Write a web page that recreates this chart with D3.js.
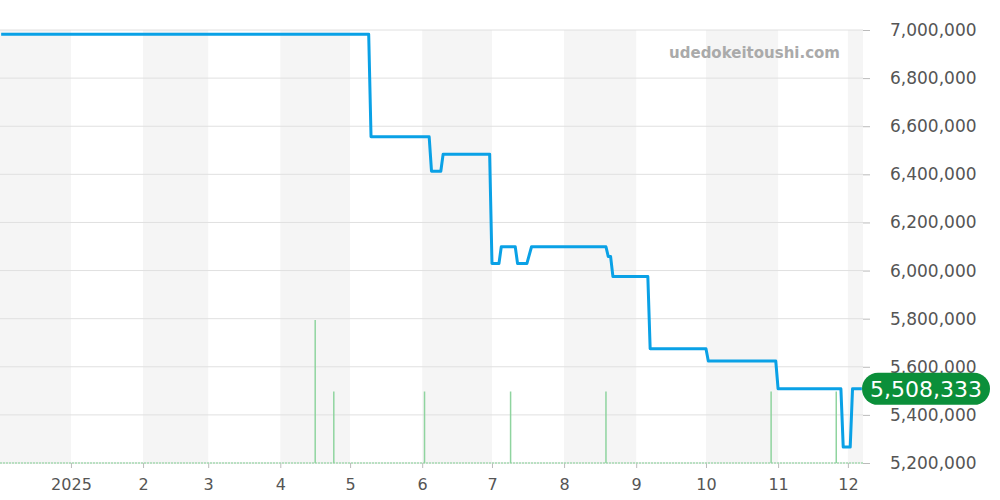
<!DOCTYPE html>
<html>
<head>
<meta charset="utf-8">
<script src="https://cdn.jsdelivr.net/npm/d3@7"></script>
<style>
  body { margin: 0; background: #fff; }
  svg { display: block; font-family: "DejaVu Sans", sans-serif; }
</style>
</head>
<body>
<svg id="chart" width="1000" height="500"></svg>
<script>
// price line, change points only
const priceDates = ["2024-12-02", "2025-05-09", "2025-05-10", "2025-06-04", "2025-06-05", "2025-06-09", "2025-06-10",
  "2025-06-30", "2025-07-01", "2025-07-04", "2025-07-05", "2025-07-11", "2025-07-12", "2025-07-16", "2025-07-18",
  "2025-08-19", "2025-08-20", "2025-08-21", "2025-08-22", "2025-09-06", "2025-09-07", "2025-10-01", "2025-10-02",
  "2025-10-31", "2025-11-01", "2025-11-28", "2025-11-29", "2025-12-02", "2025-12-03", "2025-12-07"];
const priceValues = [6982000, 6982000, 6556000, 6556000, 6413000, 6413000, 6484000,
  6484000, 6029000, 6029000, 6099000, 6099000, 6029000, 6029000, 6099000,
  6099000, 6058000, 6058000, 5975000, 5975000, 5675000, 5675000, 5624000,
  5624000, 5508333, 5508333, 5266000, 5266000, 5508333, 5508333];

// listings count
const volDates = ["2025-04-16", "2025-04-24", "2025-06-02", "2025-07-09", "2025-08-19", "2025-10-29", "2025-11-26"];
const volValues = [2, 1, 1, 1, 1, 1, 1];

const yTicks = [5200000, 5400000, 5600000, 5800000, 6000000, 6200000, 6400000, 6600000, 6800000, 7000000];
const lastPrice = 5508333;
const watermark = "udedokeitoushi.com";

const parse = d3.timeParse("%Y-%m-%d");
const price = priceDates.map((d, i) => ({ date: parse(d), value: priceValues[i] }));
const vol = volDates.map((d, i) => ({ date: parse(d), value: volValues[i] }));

const plotW = 863, plotTop = 30, plotBottom = 463;
const font = "DejaVu Sans, sans-serif";
const svg = d3.select("#chart");

const x = d3.scaleTime()
  .domain([new Date(2024, 11, 1, 12), new Date(2025, 11, 7, 12)])
  .range([0, plotW]);
const y = d3.scaleLinear().domain([5200000, 7000000]).range([plotBottom, plotTop]);
const yVol = d3.scaleLinear().domain([0, 1]).range([plotBottom, plotBottom - 71.5]);

// alternating month bands
const months = d3.timeMonth.range(new Date(2024, 11, 1), new Date(2026, 0, 1));
svg.append("g").selectAll("rect")
  .data(months.filter((m, i) => i % 2 === 0))
  .enter().append("rect")
  .attr("x", d => Math.max(0, x(d)))
  .attr("y", plotTop)
  .attr("width", d => Math.min(plotW, x(d3.timeMonth.offset(d, 1))) - Math.max(0, x(d)))
  .attr("height", plotBottom - plotTop)
  .attr("fill", "#f5f5f5");

// grid
svg.append("g").selectAll("line")
  .data(yTicks)
  .enter().append("line")
  .attr("x1", 0).attr("x2", plotW)
  .attr("y1", d => y(d)).attr("y2", d => y(d))
  .attr("stroke", "#e0e0e0").attr("stroke-width", 1);

// y axis on right
const yAxis = d3.axisRight(y).tickValues(yTicks).tickSize(7).tickPadding(20)
  .tickFormat(d3.format(","));
const ya = svg.append("g").attr("transform", "translate(" + plotW + ",0)").call(yAxis)
  .attr("font-family", font).attr("font-size", 17);
ya.select(".domain").remove();
ya.selectAll("line").attr("stroke", "#bbb");
ya.selectAll("text").attr("fill", "#555");

// x axis
const xAxis = d3.axisBottom(x)
  .tickValues(d3.timeMonth.range(new Date(2025, 0, 1), new Date(2025, 11, 2)))
  .tickSize(5).tickPadding(11)
  .tickFormat(d => d.getMonth() === 0 ? d.getFullYear() : d.getMonth() + 1);
const xa = svg.append("g").attr("transform", "translate(0," + plotBottom + ")").call(xAxis)
  .attr("font-family", font).attr("font-size", 16);
xa.select(".domain").remove();
xa.selectAll("line").attr("stroke", "#bbb");
xa.selectAll("text").attr("fill", "#555");

// baseline of volume series
svg.append("line")
  .attr("x1", 0).attr("x2", plotW)
  .attr("y1", plotBottom).attr("y2", plotBottom)
  .attr("stroke", "#a8dcb4").attr("stroke-width", 1.5)
  .attr("stroke-dasharray", "2,1");

// volume bars
svg.append("g").selectAll("line")
  .data(vol)
  .enter().append("line")
  .attr("x1", d => x(d.date)).attr("x2", d => x(d.date))
  .attr("y1", plotBottom).attr("y2", d => yVol(d.value))
  .attr("stroke", "#8fd49f").attr("stroke-width", 1.5);

// price line
svg.append("path")
  .datum(price)
  .attr("fill", "none")
  .attr("stroke", "#0aa1e6")
  .attr("stroke-width", 3)
  .attr("stroke-linejoin", "round")
  .attr("d", d3.line().x(d => x(d.date)).y(d => y(d.value)));

// watermark
svg.append("text")
  .attr("x", 840).attr("y", 58)
  .attr("text-anchor", "end")
  .attr("fill", "#aaa")
  .style("font-size", "15px").style("font-weight", "bold")
  .text(watermark);

// last value badge
const by = y(lastPrice);
svg.append("rect")
  .attr("x", 862).attr("y", by - 16)
  .attr("width", 128).attr("height", 32)
  .attr("rx", 16)
  .attr("fill", "#0b8f3a");
svg.append("text")
  .attr("x", 926).attr("y", by + 8)
  .attr("text-anchor", "middle")
  .attr("fill", "#fff")
  .style("font-size", "22px")
  .text(d3.format(",")(lastPrice));
</script>
</body>
</html>
